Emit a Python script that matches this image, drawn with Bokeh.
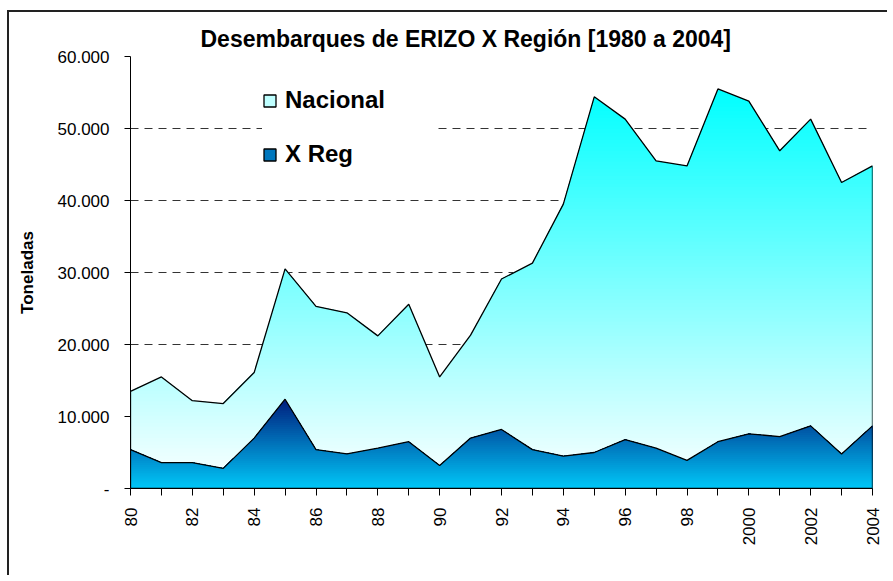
import numpy as np
from bokeh.plotting import figure
from bokeh.models import FixedTicker, Legend, LegendItem, Range1d
from bokeh.embed import file_html
from bokeh.resources import INLINE

# ---------------- data ----------------
years = list(range(1980, 2005))
nacional = [13500, 15500, 12200, 11800, 16100, 30500, 25300, 24400, 21200, 25600,
            15500, 21300, 29100, 31300, 39500, 54400, 51300, 45500, 44800, 55500,
            53800, 46900, 51300, 42500, 44800]
x_reg = [5400, 3600, 3600, 2800, 7000, 12400, 5400, 4800, 5600, 6500,
         3200, 7000, 8200, 5400, 4500, 5000, 6800, 5600, 3900, 6500,
         7600, 7200, 8700, 4800, 8700]
x_tick_labels = ["80", "", "82", "", "84", "", "86", "", "88", "", "90", "", "92", "",
                 "94", "", "96", "", "98", "", "2000", "", "2002", "", "2004"]
y_ticks = [0, 10000, 20000, 30000, 40000, 50000, 60000]
y_tick_labels = ["-", "10.000", "20.000", "30.000", "40.000", "50.000", "60.000"]
series_names = ["Nacional", "X Reg"]

FONT = "Liberation Sans"

p = figure(width=880, height=565, output_backend="svg", toolbar_location=None,
           x_range=Range1d(years[0], years[-1]), y_range=Range1d(y_ticks[0], y_ticks[-1]),
           min_border_left=121, min_border_right=17, min_border_top=44, min_border_bottom=89)
p.styles = {"border-left": "2px solid #222222", "border-top": "2px solid #222222",
            "margin-top": "10px", "margin-left": "7px"}
p.outline_line_color = None
p.background_fill_color = "white"
p.border_fill_color = "white"

# title
p.title.text = "Desembarques de ERIZO X Región [1980 a 2004]"
p.title.text_font = FONT
p.title.text_font_size = "23px"
p.title.text_font_style = "bold"
p.title.text_color = "black"
p.title.align = "left"
p.title.offset = 70
p.title.standoff = 10


def mix(c0, c1, t):
    r = int(round(c0[0] + (c1[0] - c0[0]) * t))
    g = int(round(c0[1] + (c1[1] - c0[1]) * t))
    b = int(round(c0[2] + (c1[2] - c0[2]) * t))
    return "#%02x%02x%02x" % (r, g, b)


def gradient_area(xs, ys, bottom_rgb, top_rgb, n):
    xs = np.asarray(xs, float)
    ys = np.asarray(ys, float)
    ymax = ys.max()
    levels = np.linspace(0, ymax, n + 1)[1:]
    rends = {}
    for i in reversed(range(n)):
        b = levels[i]
        bx = list(xs)
        for j in range(len(xs) - 1):
            y0, y1 = ys[j], ys[j + 1]
            if (y0 - b) * (y1 - b) < 0:
                t = (b - y0) / (y1 - y0)
                bx.append(xs[j] + t * (xs[j + 1] - xs[j]))
        bx = np.sort(np.array(bx))
        by = np.minimum(np.interp(bx, xs, ys), b)
        col = mix(bottom_rgb, top_rgb, (i + 0.5) / n)
        rends[i] = p.varea(x=bx, y1=0, y2=by, fill_color=col, fill_alpha=1.0)
    return rends


# Nacional: white at bottom -> cyan at top
N_NAC = 110
bands_nac = gradient_area(years, nacional, (255, 255, 255), (0, 255, 255), N_NAC)
out_nac = p.patch(x=years + [years[-1], years[0]], y=nacional + [0, 0],
                  fill_color=None, line_color="black", line_width=1.3)

# X Reg: bright blue at bottom -> dark navy at top
N_XR = 45
bands_xr = gradient_area(years, x_reg, (0, 200, 248), (0, 30, 125), N_XR)
out_xr = p.patch(x=years + [years[-1], years[0]], y=x_reg + [0, 0],
                 fill_color=None, line_color="black", line_width=1.3)

# axes
p.xaxis.ticker = FixedTicker(ticks=years)
p.xaxis.major_label_overrides = {yr: lab for yr, lab in zip(years, x_tick_labels)}
p.xaxis.major_label_orientation = np.pi / 2
p.yaxis.ticker = FixedTicker(ticks=y_ticks)
p.yaxis.major_label_overrides = {v: lab for v, lab in zip(y_ticks, y_tick_labels)}
for ax in (p.xaxis, p.yaxis):
    ax.major_label_text_font = FONT
    ax.major_label_text_font_size = "17px"
    ax.major_label_text_color = "black"
    ax.axis_line_color = "black"
    ax.axis_line_width = 1
    ax.major_tick_line_color = "black"
    ax.major_tick_in = 0
    ax.minor_tick_line_color = None
p.xaxis.major_tick_out = 7
p.yaxis.major_tick_out = 6
p.xaxis.major_label_standoff = 12
p.yaxis.major_label_standoff = 15
p.yaxis.axis_label = "Toneladas"
p.yaxis.axis_label_text_font = FONT
p.yaxis.axis_label_text_font_size = "17px"
p.yaxis.axis_label_text_font_style = "bold"
p.yaxis.axis_label_text_color = "black"
p.yaxis.axis_label_standoff = 18

p.xgrid.visible = False
p.ygrid.ticker = FixedTicker(ticks=y_ticks[1:])
p.ygrid.grid_line_color = "#333333"
p.ygrid.grid_line_dash = "8 6"
p.ygrid.grid_line_width = 1

# legend: swatch = a light band of each gradient + the black outline
legend = Legend(items=[LegendItem(label=series_names[0], renderers=[bands_nac[27], out_nac]),
                       LegendItem(label=series_names[1], renderers=[bands_xr[21], out_xr])],
                location=(132, 320), label_text_font=FONT, label_text_font_size="24px",
                label_text_font_style="bold", label_text_color="black",
                glyph_width=15, glyph_height=15, label_standoff=8, spacing=26,
                label_width=150, padding=24, border_line_color=None,
                background_fill_color="white", background_fill_alpha=1.0)
p.add_layout(legend)

open("out.html", "w").write(file_html(p, INLINE))
